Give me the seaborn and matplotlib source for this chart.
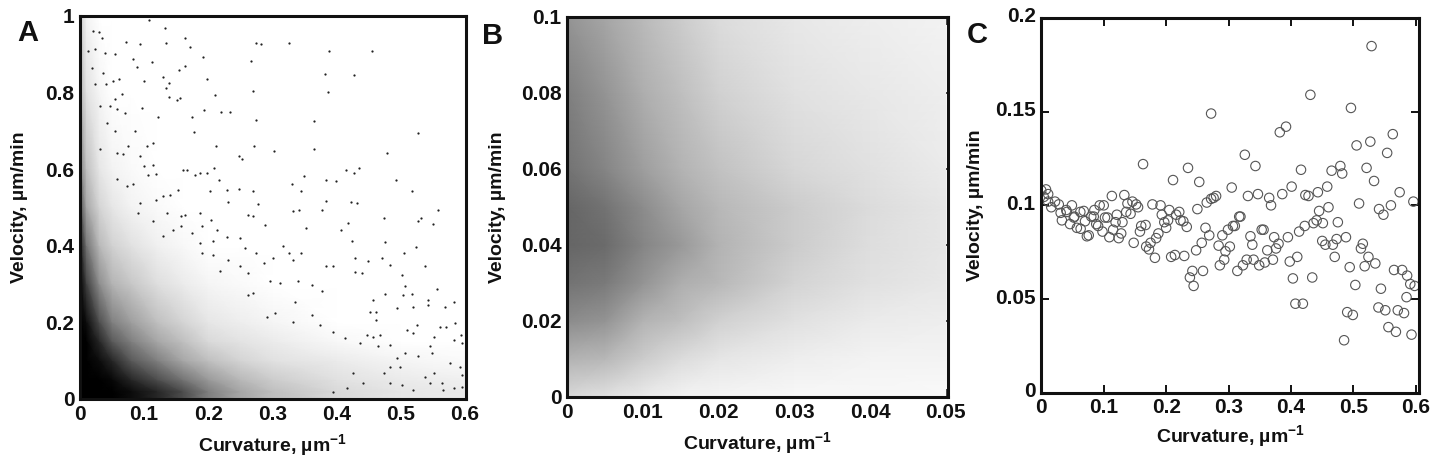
import numpy as np
import pandas as pd
import matplotlib
matplotlib.use("Agg")
import matplotlib.pyplot as plt
from matplotlib.transforms import ScaledTranslation
import seaborn as sns

# Panel A: individually legible points
a_x = [.4545,.388,.325,.274,.282,.267,.381,.4265,.386,.270,.527,.365,.274,.234,.219,.193,.211,.198,.191,.172,.163,.1335,.1325,.108,.072,.093,.082,.112,.089,.164,.155,.0997,.129,.139,.1335,.096,.156,.138,.151,.121,.175,.178,.271,.212,.247,.252,.303,.364,.479,.414,.435,.427,.492,.518,.399,.383,.383,.422,.432,.558,.531,.526,.5505,.3485,.330,.344,.332,.341,.377,.352,.406,.418,.473,.424,.475,.523,.505,.429,.449,.470,.483,.537,.429,.439,.501,.507,.475,.504,.518,.557,.583,.569,.543,.543,.519,.494,.457,.395,.384,.345,.332,.317,.325,.301,.275,.257,.270,.261,.288,.231,.248,.229,.203,.270,.278,.209,.198,.216,.187,.166,.161,.179,.571,.584,.561,.594,.582,.595,.551,.545,.519,.509,.525,.4675,.457,.447,.462,.452,.462,.465,.506,.527,.4935,.548,.577,.592,.551,.5635,.582,.545,.519,.501,.483,.473,.426,.395,.416,.4415,.595,.595,.566,.538,.499,.483,
       .021,.029,.034,.013,.023,.039,.0545,.018,.036,.023,.0405,.060,.051,.066,.0545,.031,.047,.070,.057,.085,.075,.104,.113,.0545,.0415,.031,.057,.0935,.0675,.114,.099,.1065,.119,.073,.083,.130,.140,.153,.119,.0935,.057,.091,.114,.135,.158,.164,.187,.204,.190,.213,.158,.145,.130,.174,.187,.208,.229,.249,.190,.208,.231,.249,.218,.262,.286,.312,.296,.340,.361,.377,.335,.270,.262,.291,.304,.361,.374,.332,.395,.413,.483,.436]
a_y = [.909,.907,.929,.930,.925,.881,.847,.844,.802,.804,.694,.725,.728,.749,.748,.753,.794,.834,.893,.918,.943,.929,.969,.990,.931,.925,.888,.879,.866,.868,.858,.829,.841,.825,.812,.760,.786,.788,.780,.736,.736,.696,.659,.659,.635,.626,.646,.651,.642,.598,.603,.590,.572,.543,.570,.572,.516,.514,.511,.492,.472,.464,.457,.581,.562,.543,.490,.494,.494,.445,.442,.458,.473,.412,.409,.396,.381,.369,.359,.368,.350,.348,.331,.328,.324,.294,.274,.272,.274,.287,.253,.241,.259,.246,.240,.237,.259,.346,.346,.381,.363,.398,.381,.368,.381,.394,.478,.481,.453,.513,.548,.546,.543,.543,.509,.603,.590,.572,.590,.598,.597,.585,.189,.198,.189,.167,.154,.146,.163,.137,.172,.180,.193,.167,.163,.167,.206,.228,.228,.137,.119,.111,.106,.119,.093,.0845,.067,.041,.028,.041,.0235,.037,.041,.067,.067,.019,.028,.041,.032,.063,.0235,.058,.0845,.0845,
       .961,.957,.943,.908,.912,.903,.899,.864,.850,.822,.822,.836,.830,.795,.782,.765,.765,.747,.756,.699,.660,.661,.669,.699,.721,.651,.642,.634,.638,.610,.608,.584,.586,.555,.562,.529,.533,.544,.520,.512,.573,.486,.464,.486,.477,.479,.486,.468,.451,.442,.451,.442,.424,.433,.407,.411,.423,.420,.381,.376,.363,.346,.333,.329,.355,.302,.307,.307,.298,.281,.254,.276,.272,.215,.224,.220,.193,.202,.176,.159,.141,.145]

# Panel A: stipple too dense to count, read as ink coverage per grid node
a_grid_x = [0,.01,.03,.05,.08,.12,.16,.2,.25,.3,.4,.5,.6]
a_grid_y = [0,.02,.05,.1,.15,.2,.3,.4,.5,.6,.8,1]
a_ink = [
 [1,1,1,1,.95,.85,.7,.5,.35,.25,.15,.1,.08],
 [1,1,1,1,.95,.85,.7,.5,.35,.25,.15,.1,.08],
 [1,1,1,.97,.85,.7,.55,.4,.28,.2,.12,.08,.06],
 [1,1,.95,.85,.65,.5,.35,.25,.17,.12,.08,.04,.02],
 [1,1,.85,.65,.5,.35,.25,.15,.11,.08,.03,0,0],
 [1,.95,.7,.5,.38,.25,.17,.1,.07,.04,0,0,0],
 [1,.75,.45,.3,.22,.13,.08,.04,.02,0,0,0,0],
 [.9,.55,.28,.18,.12,.06,.03,0,0,0,0,0,0],
 [.7,.35,.17,.1,.05,.02,0,0,0,0,0,0,0],
 [.5,.25,.1,.05,.02,0,0,0,0,0,0,0,0],
 [.3,.12,.04,0,0,0,0,0,0,0,0,0,0],
 [.2,.05,0,0,0,0,0,0,0,0,0,0,0],
]

# Panel B: ink coverage per grid node
b_grid_x = [0,.005,.01,.015,.02,.03,.04,.05]
b_grid_y = [0,.01,.02,.03,.04,.05,.06,.08,.1]
b_ink = [
 [.15,.12,.08,.05,.04,.03,.03,.02],
 [.3,.28,.2,.14,.1,.07,.05,.05],
 [.45,.42,.3,.25,.18,.12,.08,.07],
 [.55,.52,.42,.32,.28,.17,.12,.09],
 [.6,.58,.48,.4,.3,.2,.13,.1],
 [.6,.55,.45,.35,.28,.2,.14,.1],
 [.55,.48,.38,.3,.24,.16,.12,.08],
 [.5,.42,.32,.25,.18,.12,.09,.07],
 [.42,.35,.27,.2,.14,.09,.07,.05],
]

# Panel C: every circle
c_x = [.529,.431,.496,.272,.392,.382,.563,.505,.527,.326,.554,.163,.343,.479,.235,.416,.465,.482,.521,.211,.253,.533,.305,.401,.458,.574,.443,.386,.347,.331,.423,.428,.365,.280,.276,.272,.265,.509,.596,.560,.368,.541,.460,.445,.548,.250,.317,.319,.475,.451,.441,.436,.422,.413,.395,.356,.353,.335,.373,.488,.473,.380,.376,.362,.338,.310,.307,.299,.290,.269,.263,.257,.248,.284,.302,.295,.450,.455,.467,.515,.512,.524,.470,.410,.371,.358,.349,.340,.329,.323,.314,.293,.286,.398,.535,.494,.518,.565,.578,.586,.591,.598,.503,.434,.403,.259,.242,.238,.244,.229,.214,.208,.585,.544,.540,.551,.571,.581,.490,.499,.407,.419,.556,.568,.593,.485,
       .000,.0075,.011,.004,.011,.022,.028,.016,.031,.033,.040,.041,.049,.046,.053,.052,.057,.0625,.068,.070,.063,.073,.076,.080,.084,.085,.088,.091,.0935,.100,.098,.102,.106,.109,.113,.115,.119,.121,.124,.128,.130,.133,.136,.138,.143,.146,.152,.155,.148,.158,.160,.167,.168,.1725,.175,.182,.184,.1875,.178,.191,.193,.197,.200,.203,.205,.216,.221,.223,.2275,.233]
c_y = [.185,.159,.152,.149,.142,.139,.138,.132,.134,.127,.128,.122,.121,.121,.120,.119,.1185,.117,.120,.1135,.1125,.113,.1095,.110,.110,.107,.107,.106,.106,.105,.1055,.105,.104,.105,.104,.1035,.1015,.101,.102,.100,.100,.098,.099,.097,.095,.098,.094,.094,.091,.0905,.092,.0905,.089,.086,.083,.087,.087,.0835,.083,.083,.082,.0795,.077,.076,.079,.089,.089,.087,.084,.084,.088,.080,.076,.0785,.078,.0755,.081,.079,.079,.0795,.077,.0725,.0725,.0725,.071,.0695,.068,.071,.071,.068,.065,.071,.068,.070,.069,.067,.0675,.0655,.0655,.0625,.058,.057,.0575,.0615,.061,.065,.065,.0615,.057,.073,.0735,.0725,.051,.0555,.0455,.044,.044,.0425,.043,.0415,.0475,.0475,.035,.0325,.031,.028,
       .108,.1085,.106,.1045,.102,.102,.1005,.099,.096,.092,.0975,.0965,.100,.090,.094,.0935,.088,.0965,.097,.0915,.0875,.0835,.084,.094,.094,.0975,.090,.089,.100,.100,.086,.0935,.0935,.083,.105,.087,.091,.095,.0825,.085,.091,.1055,.0965,.101,.0955,.102,.1005,.099,.080,.086,.089,.0895,.078,.0765,.080,.072,.0825,.085,.1005,.100,.095,.091,.088,.092,.0975,.095,.0965,.092,.0915,.0885]

x_label = "Curvature, µm$^{\\mathbf{-1}}$"
y_label = "Velocity, µm/min"
W, H = 1436, 459

sns.set_style("ticks")
plt.rcParams.update({
    "font.family": ["Liberation Sans", "DejaVu Sans"],
    "font.weight": "bold",
    "mathtext.fontset": "custom",
    "mathtext.bf": "Liberation Sans:bold",
    "mathtext.rm": "Liberation Sans:bold",
    "mathtext.default": "bf",
})
fig = plt.figure(figsize=(W / 100, H / 100), dpi=100, facecolor="white")


def make_axes(l, r, t, b):
    return fig.add_axes([l / W, 1 - b / H, (r - l) / W, (b - t) / H])


def style(ax, xlim, ylim, xt, xl, yt, yl, xlabelpad, lab_x):
    ax.set_xlim(*xlim)
    ax.set_ylim(*ylim)
    ax.set_xticks(xt, xl)
    ax.set_yticks(yt, yl)
    ax.tick_params(direction="in", length=5.5, width=1.4, top=True, right=True,
                   labelsize=15, color="#111111", labelcolor="#111111", pad=4)
    for s in ax.spines.values():
        s.set_linewidth(2.2)
        s.set_color("#111111")
        s.set_visible(True)
    ax.set_xlabel(x_label, fontsize=14, fontweight="bold", labelpad=xlabelpad, color="#111111")
    ax.set_ylabel(y_label, fontsize=14, fontweight="bold", color="#111111")
    ax.yaxis.set_label_coords(lab_x, 0.5)


def ink_map(ax, gx, gy, ink):
    ax.pcolormesh(gx, gy, np.array(ink), cmap="gray_r", vmin=0, vmax=1,
                  shading="gouraud", rasterized=True, zorder=1)


# A
axA = make_axes(80, 465.7, 15.7, 399)
ink_map(axA, a_grid_x, a_grid_y, a_ink)
sns.scatterplot(data=pd.DataFrame({"x": a_x, "y": a_y}), x="x", y="y", ax=axA, s=2.6,
                color="#222222", linewidth=0, zorder=2, legend=False)
style(axA, (0, .601), (0, 1), [0, .1, .2, .3, .4, .5, .6], ["0", "0.1", "0.2", "0.3", "0.4", "0.5", "0.6"],
      [0, .2, .4, .6, .8, 1], ["0", "0.2", "0.4", "0.6", "0.8", "1"], 6, -0.135)

# B
axB = make_axes(567.3, 948, 17, 397)
ink_map(axB, b_grid_x, b_grid_y, b_ink)
style(axB, (0, .0503), (0, .1), [0, .01, .02, .03, .04, .05], ["0", "0.01", "0.02", "0.03", "0.04", "0.05"],
      [0, .02, .04, .06, .08, .1], ["0", "0.02", "0.04", "0.06", "0.08", "0.1"], 6, -0.162)

# C
axC = make_axes(1041.3, 1419, 18, 392.7)
sns.scatterplot(data=pd.DataFrame({"x": c_x, "y": c_y}), x="x", y="y", ax=axC, s=46, marker="o",
                facecolor="none", edgecolor="#555555", linewidth=0.8, legend=False, zorder=2)
style(axC, (0, .605), (0, .2), [0, .1, .2, .3, .4, .5, .6], ["0", "0.1", "0.2", "0.3", "0.4", "0.5", "0.6"],
      [0, .05, .1, .15, .2], ["0", "0.05", "0.1", "0.15", "0.2"], 4, -0.153)
shift = ScaledTranslation(0, 3 / 100, fig.dpi_scale_trans)
for lbl in axC.get_yticklabels():
    lbl.set_transform(lbl.get_transform() + shift)

# Panel letters
for letter, px, py in [("A", 17, 33), ("B", 482, 36), ("C", 967, 35)]:
    fig.text(px / W, 1 - py / H, letter, fontsize=21, fontweight="bold", color="#111111",
             family=["Liberation Sans Narrow", "Liberation Sans"], ha="left", va="center")

fig.savefig("out.png", dpi=100, facecolor="white")
